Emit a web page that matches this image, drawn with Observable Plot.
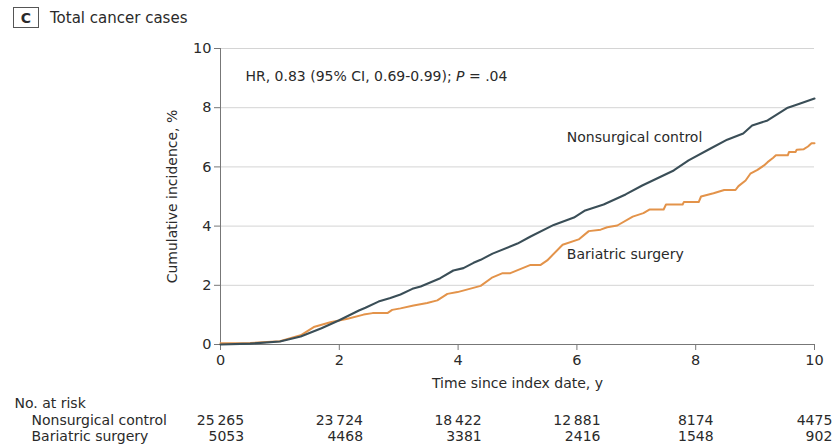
<!DOCTYPE html>
<html>
<head>
<meta charset="utf-8">
<script src="https://cdn.jsdelivr.net/npm/d3@7"></script>
<script src="https://cdn.jsdelivr.net/npm/@observablehq/plot@0.6"></script>
<style>
  body { margin: 0; background: #fff; }
  #wrap { position: relative; width: 835px; height: 445px; font-family: "DejaVu Sans", sans-serif; color: #2a2a2a; }
  #title { position: absolute; left: 13px; top: 7px; display: flex; align-items: center; height: 21px; }
  #title .box { box-sizing: border-box; width: 26px; height: 21px; border: 1px solid #555; display: flex; align-items: center; justify-content: center; font-weight: bold; font-size: 14px; margin-right: 11px; }
  #title .txt { font-size: 15px; }
</style>
</head>
<body>
<div id="wrap">
  <div id="title"><div class="box">C</div><div class="txt">Total cancer cases</div></div>
</div>
<script>
// Nonsurgical control: cumulative incidence (%) by years since index date
const nonsurgT = [0, 0.5, 1.0, 1.35, 1.7, 1.99, 2.33, 2.44, 2.66, 2.86, 3.03, 3.23, 3.37, 3.70, 3.92, 4.09, 4.26, 4.38, 4.58, 5.0, 5.22, 5.61, 5.95, 6.14, 6.45, 6.82, 7.1, 7.63, 7.88, 8.25, 8.53, 8.80, 8.95, 9.21, 9.55, 9.76, 10];
const nonsurgV = [0, 0.03, 0.1, 0.27, 0.55, 0.81, 1.15, 1.24, 1.45, 1.57, 1.69, 1.88, 1.96, 2.24, 2.50, 2.58, 2.76, 2.86, 3.07, 3.41, 3.65, 4.04, 4.29, 4.53, 4.73, 5.07, 5.37, 5.88, 6.22, 6.62, 6.92, 7.13, 7.40, 7.57, 8.0, 8.14, 8.31];
// Bariatric surgery
const bariT = [0, 0.5, 1.0, 1.35, 1.57, 1.85, 2.14, 2.41, 2.56, 2.81, 2.89, 3.03, 3.25, 3.48, 3.65, 3.82, 3.99, 4.38, 4.58, 4.75, 4.88, 5.22, 5.39, 5.50, 5.76, 6.03, 6.20, 6.40, 6.51, 6.68, 6.94, 7.12, 7.22, 7.46, 7.50, 7.78, 7.80, 8.05, 8.09, 8.30, 8.48, 8.67, 8.72, 8.84, 8.92, 9.04, 9.15, 9.21, 9.30, 9.35, 9.55, 9.57, 9.68, 9.70, 9.82, 9.89, 9.95, 10];
const bariV = [0.04, 0.05, 0.11, 0.31, 0.59, 0.75, 0.87, 1.01, 1.06, 1.06, 1.17, 1.22, 1.32, 1.40, 1.49, 1.71, 1.77, 1.98, 2.27, 2.41, 2.41, 2.69, 2.69, 2.84, 3.37, 3.55, 3.83, 3.88, 3.96, 4.02, 4.32, 4.44, 4.56, 4.56, 4.73, 4.73, 4.81, 4.81, 5.0, 5.11, 5.22, 5.22, 5.35, 5.54, 5.77, 5.90, 6.05, 6.16, 6.30, 6.39, 6.39, 6.50, 6.50, 6.58, 6.60, 6.69, 6.80, 6.80];

const seriesNames = ["Nonsurgical control", "Bariatric surgery"];
const xTicks = [0, 2, 4, 6, 8, 10];
const yTicks = [0, 2, 4, 6, 8, 10];
const riskYears = [0, 2, 4, 6, 8, 10];
const nonsurgRisk = ["25\u2009265", "23\u2009724", "18\u2009422", "12\u2009881", "8174", "4475"];
const bariRisk = ["5053", "4468", "3381", "2416", "1548", "902"];
const hrText = "HR, 0.83 (95% CI, 0.69-0.99); ";
const labelPos = [{name: "Nonsurgical control", t: 5.83, v: 6.99}, {name: "Bariatric surgery", t: 5.83, v: 3.04}];

const darkColor = "#3a4e57";
const orangeColor = "#e3934a";

const nonsurg = nonsurgT.map((t, i) => ({t, v: nonsurgV[i]}));
const bari = bariT.map((t, i) => ({t, v: bariV[i]}));

const plot = Plot.plot({
  width: 835,
  height: 445,
  marginLeft: 220,
  marginRight: 21,
  marginTop: 48,
  marginBottom: 101,
  style: {fontFamily: "DejaVu Sans, sans-serif", fontSize: "14px", color: "#2a2a2a", background: "transparent", overflow: "visible"},
  x: {domain: [0, 10], label: null},
  y: {domain: [0, 10], label: null},
  marks: [
    Plot.gridY(yTicks.filter(d => d > 0), {stroke: "#d4d4d4", strokeOpacity: 1, strokeWidth: 1}),
    Plot.axisX(xTicks, {tickSize: 6, tickPadding: 4, stroke: "#777", label: null, fontSize: 14.5}),
    Plot.axisY(yTicks, {tickSize: 6, tickPadding: 3, stroke: "#777", label: null, fontSize: 14.5}),
    Plot.ruleX([0], {stroke: "#777"}),
    Plot.ruleY([0], {stroke: "#777"}),
    Plot.line(bari, {x: "t", y: "v", stroke: orangeColor, strokeWidth: 2}),
    Plot.line(nonsurg, {x: "t", y: "v", stroke: darkColor, strokeWidth: 2.1}),
    Plot.text(labelPos, {x: "t", y: "v", text: "name", textAnchor: "start", lineAnchor: "middle", fill: "#2a2a2a"}),
    Plot.text([hrText], {x: 0.42, y: 9.05, text: d => d, textAnchor: "start", lineAnchor: "middle", className: "hr-text"}),
    Plot.text(["Time since index date, y"], {frameAnchor: "bottom", dy: 39, textAnchor: "middle", lineAnchor: "middle", text: d => d}),
    Plot.text(["Cumulative incidence, %"], {frameAnchor: "left", dx: -48, rotate: -90, textAnchor: "middle", lineAnchor: "middle", text: d => d}),
    Plot.text(["No. at risk"], {frameAnchor: "bottom-left", dx: -206, dy: 59, textAnchor: "start", lineAnchor: "middle", text: d => d}),
    Plot.text([seriesNames[0]], {frameAnchor: "bottom-left", dx: -189, dy: 76.5, textAnchor: "start", lineAnchor: "middle", text: d => d}),
    Plot.text([seriesNames[1]], {frameAnchor: "bottom-left", dx: -189, dy: 92.5, textAnchor: "start", lineAnchor: "middle", text: d => d}),
    Plot.text(riskYears, {x: d => d, text: (d, i) => nonsurgRisk[i], frameAnchor: "bottom", dy: 76.5, textAnchor: "middle", lineAnchor: "middle", className: "risk-top"}),
    Plot.text(riskYears, {x: d => d, text: (d, i) => bariRisk[i], frameAnchor: "bottom", dy: 92.5, textAnchor: "middle", lineAnchor: "middle", className: "risk-bot"})
  ]
});

document.getElementById("wrap").appendChild(plot);

// append italic "P = .04" to HR text
const hr = plot.querySelector("g.hr-text text");
if (hr) {
  const ts1 = document.createElementNS("http://www.w3.org/2000/svg", "tspan");
  ts1.setAttribute("font-style", "italic");
  ts1.textContent = "P";
  const ts2 = document.createElementNS("http://www.w3.org/2000/svg", "tspan");
  ts2.textContent = " = .04";
  hr.appendChild(ts1);
  hr.appendChild(ts2);
}

// right-align the bariatric row to the right edge of the nonsurgical row
const tops = plot.querySelectorAll("g.risk-top text");
const bots = plot.querySelectorAll("g.risk-bot text");
tops.forEach((tEl, i) => {
  const bEl = bots[i];
  if (!bEl) return;
  const tb = tEl.getBBox(), bb = bEl.getBBox();
  const delta = (tb.x + tb.width) - (bb.x + bb.width);
  const tr = bEl.getAttribute("transform") || "";
  bEl.setAttribute("transform", `translate(${delta},0) ${tr}`);
});
</script>
</body>
</html>
